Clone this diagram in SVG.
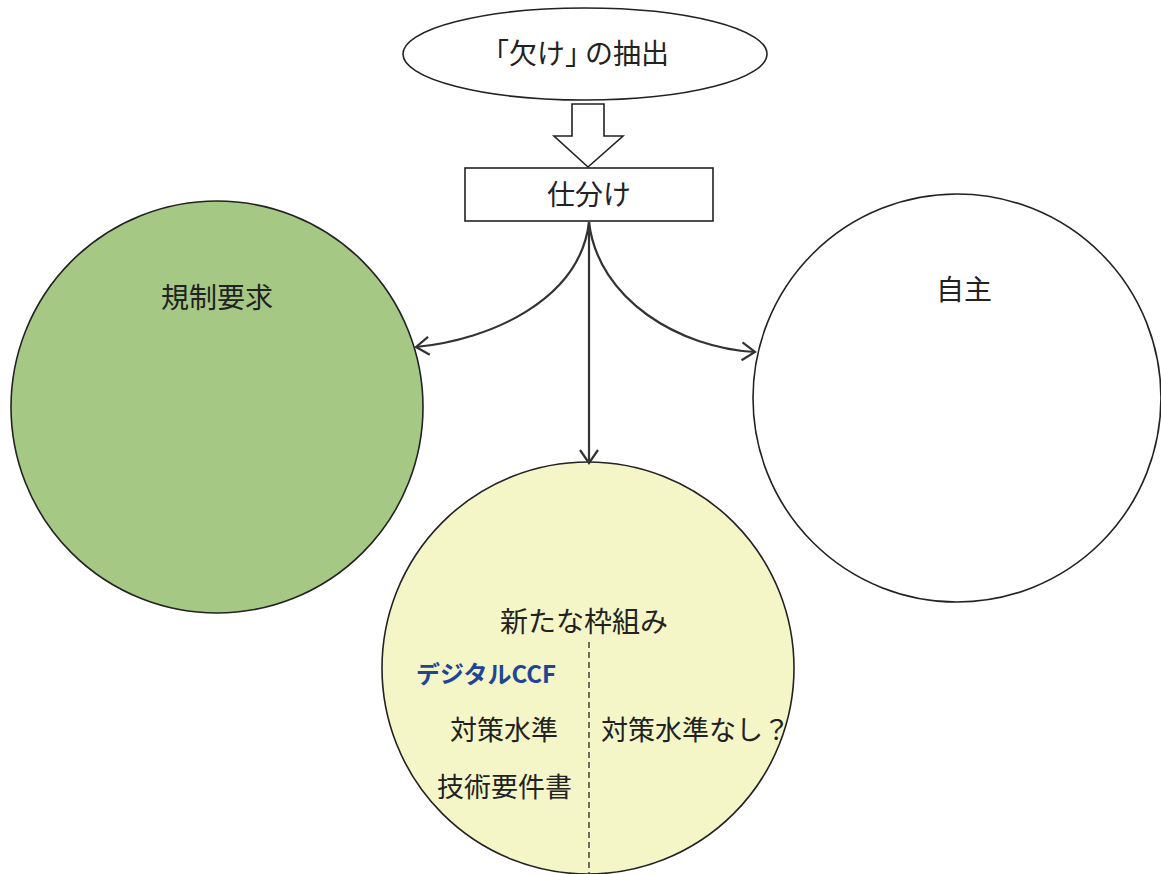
<svg xmlns="http://www.w3.org/2000/svg" width="1161" height="874" viewBox="0 0 1161 874">
  <style>
    .t { font-family: "Noto Sans CJK JP", "Noto Sans", sans-serif; fill: #222; }
    .shape { stroke: #222; stroke-width: 1.6; }
    .conn { fill: none; stroke: #333; stroke-width: 2.2; }
  </style>
  <defs>
    <marker id="arr" viewBox="0 0 16 20" refX="14" refY="10" markerWidth="16" markerHeight="20" markerUnits="userSpaceOnUse" orient="auto">
      <path d="M1,1 L14,10 L1,19" fill="none" stroke="#333" stroke-width="2.2"/>
    </marker>
  </defs>
  <rect width="1161" height="874" fill="#ffffff"/>

  <g id="node-extract">
    <ellipse class="shape" cx="585" cy="54" rx="182" ry="46" fill="#ffffff"/>
    <text class="t" x="481" y="64" font-size="28">「欠け」<tspan dx="-8">の抽出</tspan></text>
  </g>

  <g id="block-arrow">
    <polygon class="shape" points="572,104 604,104 604,136 623,136 588,167 554,136 572,136" fill="#ffffff"/>
  </g>

  <g id="node-sort">
    <rect class="shape" x="465" y="168" width="248" height="53" fill="#ffffff" stroke-width="2"/>
    <text class="t" x="589" y="205" font-size="28" text-anchor="middle">仕分け</text>
  </g>

  <g id="node-regulation">
    <circle class="shape" cx="217" cy="407" r="206" fill="#a5c985"/>
    <text class="t" x="217" y="308" font-size="28" text-anchor="middle">規制要求</text>
  </g>

  <g id="node-voluntary">
    <circle class="shape" cx="957" cy="398" r="204" fill="#ffffff"/>
    <text class="t" x="964" y="300" font-size="28" text-anchor="middle">自主</text>
  </g>

  <g id="node-new">
    <circle class="shape" cx="588" cy="668" r="206" fill="#f4f6c8"/>
    <line x1="589" y1="642" x2="589" y2="874" stroke="#333" stroke-width="1.4" stroke-dasharray="6,4"/>
    <text class="t" x="584" y="632" font-size="28" text-anchor="middle">新たな枠組み</text>
    <text x="416" y="683" font-size="24" font-weight="bold" font-family="'Noto Sans CJK JP', 'Noto Sans', sans-serif" fill="#1f4595">デジタルCCF</text>
    <text class="t" x="450" y="740" font-size="27">対策水準</text>
    <text class="t" x="601" y="740" font-size="27">対策水準なし？</text>
    <text class="t" x="437" y="797" font-size="27">技術要件書</text>
  </g>

  <g id="connectors">
    <path class="conn" d="M589,222 C580,300 490,340 416,347" marker-end="url(#arr)"/>
    <path class="conn" d="M589,222 C598,300 680,348 755,352" marker-end="url(#arr)"/>
    <path class="conn" d="M589,222 L589,463" marker-end="url(#arr)"/>
  </g>
</svg>
